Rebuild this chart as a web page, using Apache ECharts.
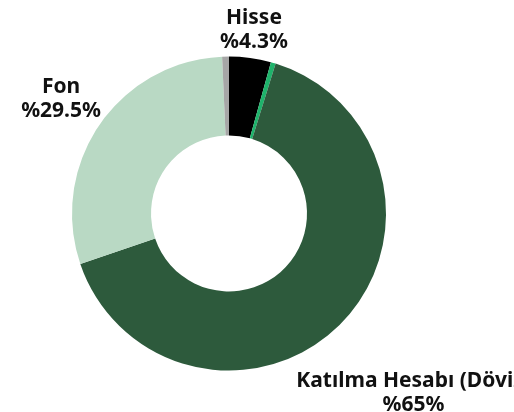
<!DOCTYPE html>
<html>
<head>
<meta charset="utf-8">
<script src="https://cdn.jsdelivr.net/npm/echarts@6/dist/echarts.min.js"></script>
<style>
  html, body { margin: 0; padding: 0; background: #fff; }
  #chart { width: 514px; height: 412px; }
</style>
</head>
<body>
<div id="chart"></div>
<script>
// slices, clockwise from 12 o'clock
const names = ['Hisse', 'Katılma Hesabı (TL)', 'Katılma Hesabı (Döviz)', 'Fon', 'Diğer'];
const values = [4.3, 0.5, 65, 29.5, 0.7];
const colors = ['#000000', '#1eb36b', '#2d5a3c', '#b9d9c4', '#a6a6a6'];
const showLabel = [true, false, true, true, false];

const CX = 229, CY = 213.5, R_IN = 78, R_OUT = 157;
const total = values.reduce((a, b) => a + b, 0);

// mid angle of each slice (radians, clockwise from top)
const midAngle = [];
let acc = 0;
values.forEach((v) => {
  midAngle.push(((acc + v / 2) / total) * Math.PI * 2);
  acc += v;
});

const chart = echarts.init(document.getElementById('chart'));

const data = names.map((n, i) => ({
  name: n,
  value: values[i],
  itemStyle: { color: colors[i] },
  label: { show: showLabel[i] },
}));

chart.setOption({
  animation: false,
  series: [
    {
      type: 'pie',
      center: [CX, CY],
      radius: [R_IN, R_OUT],
      startAngle: 90,
      clockwise: true,
      avoidLabelOverlap: false,
      itemStyle: { borderWidth: 0 },
      label: {
        show: true,
        position: 'outside',
        formatter: (p) => p.name + '\n%' + p.value + '%',
        fontFamily: 'Noto Sans',
        fontWeight: 'bold',
        fontSize: 21,
        lineHeight: 24,
        color: '#111',
        align: 'center',
      },
      labelLine: { show: false },
      // push each label out along its slice bisector until the box clears the ring
      labelLayout: (p) => {
        const a = midAngle[p.dataIndex];
        const vx = Math.sin(a), vy = -Math.cos(a);
        const w = p.labelRect.width, h = p.labelRect.height;
        const d = R_OUT + Math.abs(vx) * w / 2 + Math.abs(vy) * h / 2;
        return {
          x: CX + vx * d,
          y: CY + vy * d,
          align: 'center',
          verticalAlign: 'middle',
        };
      },
      data,
    },
  ],
});
</script>
</body>
</html>
